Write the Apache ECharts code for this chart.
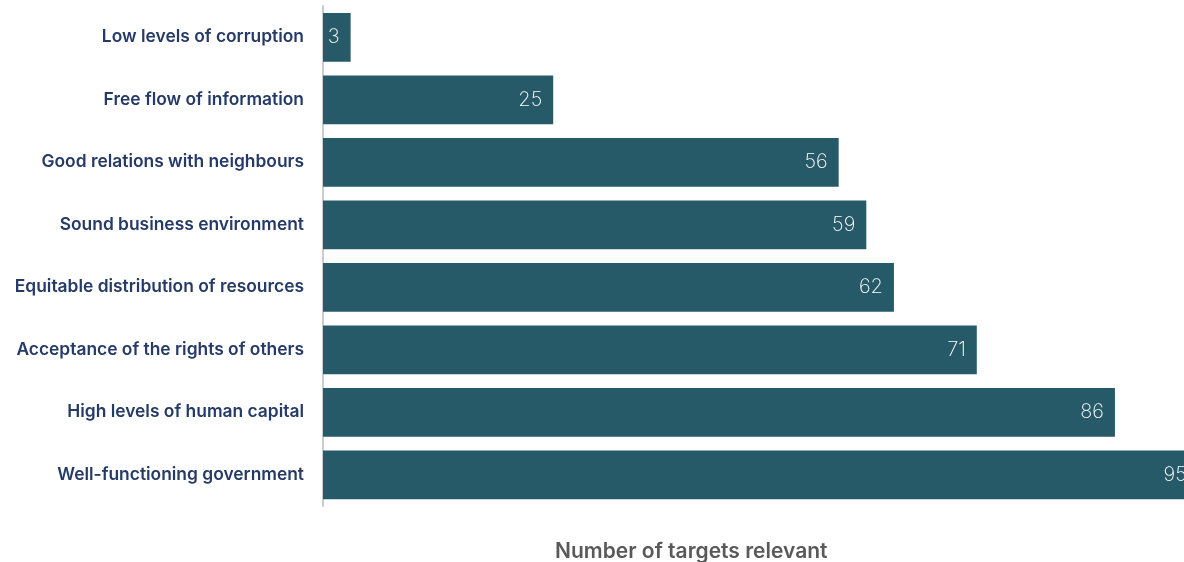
<!DOCTYPE html>
<html><head><meta charset="utf-8">
<script src="https://cdn.jsdelivr.net/npm/echarts@6/dist/echarts.min.js"></script>
<style>html,body{margin:0;padding:0;background:#fff}#c{width:1184px;height:562px}</style>
</head><body><div id="c"></div>
<script>
const categories = ["Low levels of corruption","Free flow of information","Good relations with neighbours","Sound business environment","Equitable distribution of resources","Acceptance of the rights of others","High levels of human capital","Well-functioning government"];
const values = [3,25,56,59,62,71,86,95];
const axisTitle = "Number of targets relevant";

const chart = echarts.init(document.getElementById('c'));
chart.setOption({
  animation:false,
  title:{text:axisTitle,left:550,top:536,textStyle:{fontFamily:'Inter',fontSize:21,fontWeight:600,color:'#595959'}},
  grid:{left:323,right:0,top:6,bottom:56,containLabel:false},
  xAxis:{type:'value',min:0,max:93.5,show:false},
  yAxis:{type:'category',data:categories,inverse:true,
    axisLine:{show:true,lineStyle:{color:'#cccccc',width:2}},
    axisTick:{show:false},
    axisLabel:{margin:19,fontFamily:'Inter',fontSize:17.4,fontWeight:600,color:'#253a66',padding:[0,0,6,0]}},
  series:[{type:'bar',data:values,barCategoryGap:'22%',clip:false,
    itemStyle:{color:'#265a69'},
    label:{show:true,position:'insideRight',distance:11,color:'#ffffff',fontFamily:'Inter',fontWeight:200,fontSize:20}}]
});
</script></body></html>
